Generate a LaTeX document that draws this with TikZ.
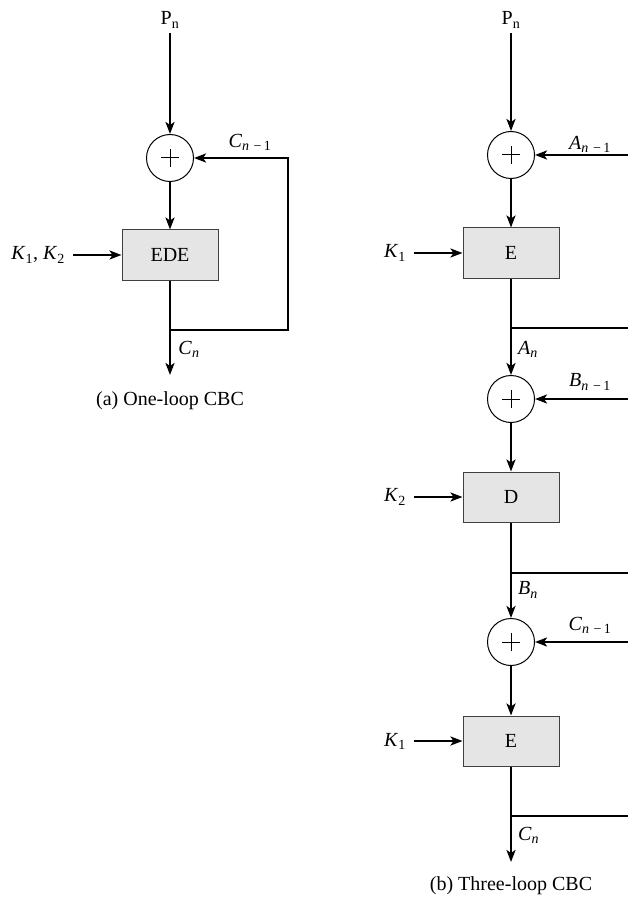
\documentclass[tikz,border=0pt]{standalone}
\usepackage{fontspec}
\setmainfont{Liberation Serif}
\usetikzlibrary{arrows.meta,calc}
\newcommand{\ilab}[2]{\textit{#1}\textsubscript{#2}}
\newcommand{\nmo}{\textit{n}\,\,−\,1}
\begin{document}
\begin{tikzpicture}[x=1pt,y=-1pt,
  font=\fontsize{20}{24}\selectfont,
  arr/.style={line width=2.2pt,-{Stealth[length=12pt,width=9pt,inset=3pt]}},
  wire/.style={line width=2.2pt},
  xorc/.style={circle,draw,line width=1pt,minimum size=47pt,inner sep=0pt,
    path picture={\draw[line width=1pt]
      ([xshift=-9pt]path picture bounding box.center) -- ([xshift=9pt]path picture bounding box.center)
      ([yshift=-9pt]path picture bounding box.center) -- ([yshift=9pt]path picture bounding box.center);}},
  blk/.style={draw=black!75,fill=black!10,line width=1pt,minimum width=96pt,minimum height=50pt,inner sep=0pt},
  lab/.style={inner sep=0pt},
  keylab/.style={inner sep=0pt,inner xsep=8pt,anchor=east},
  top/.style={anchor=base,inner sep=0pt,inner ysep=5pt}
]
\useasboundingbox (0,0) rectangle (628,901);

% ---------- (a) One-loop CBC ----------
\node[top] (pnA) at (170,25) {P\textsubscript{n}};
\node[xorc] (cA) at (170,158) {};
\node[blk] (bA) at (170,255) {EDE};
\node[keylab] (kA) at (73,255) {\ilab{K}{1}, \ilab{K}{2}};
\coordinate (jA) at (170,330);
\coordinate (oA) at (170,375);
\coordinate (rA) at (288,330);

\draw[arr] (pnA) -- (cA);
\draw[arr] (cA) -- (bA);
\draw[arr] (kA.east) -- (kA.east -| bA.west);
\draw[arr] (bA) -- (oA);
\draw[arr] (jA) -- (rA) |- (cA);

\node[lab] (cnm1A) at (250,142) {\ilab{C}{\nmo}};
\node[lab] (cnA) at (189,349) {\ilab{C}{\textit{n}}};
\node[lab] (capA) at (170,401) {(a) One-loop CBC};

% ---------- (b) Three-loop CBC ----------
\node[top] (pnB) at (511,25) {P\textsubscript{n}};
\node[xorc] (c1) at (511,155) {};
\node[blk] (b1) at (511,253) {E};
\node[keylab] (k1) at (414,253) {\ilab{K}{1}};
\node[xorc] (c2) at (511,399) {};
\node[blk] (b2) at (511,497) {D};
\node[keylab] (k2) at (414,497) {\ilab{K}{2}};
\node[xorc] (c3) at (511,642) {};
\node[blk] (b3) at (511,741) {E};
\node[keylab] (k3) at (414,741) {\ilab{K}{1}};

\coordinate (j1) at (511,328);
\coordinate (j2) at (511,573);
\coordinate (j3) at (511,816);
\coordinate (e1) at (628,328);
\coordinate (e2) at (628,573);
\coordinate (e3) at (628,816);
\coordinate (f1) at (628,155);
\coordinate (f2) at (628,399);
\coordinate (f3) at (628,642);
\coordinate (oB) at (511,862);

\draw[arr] (pnB) -- (c1);
\draw[arr] (c1) -- (b1);
\draw[arr] (b1) -- (c2);
\draw[arr] (c2) -- (b2);
\draw[arr] (b2) -- (c3);
\draw[arr] (c3) -- (b3);
\draw[arr] (b3) -- (oB);
\draw[arr] (k1.east) -- (k1.east -| b1.west);
\draw[arr] (k2.east) -- (k2.east -| b2.west);
\draw[arr] (k3.east) -- (k3.east -| b3.west);
\draw[arr] (f1) -- (c1);
\draw[arr] (f2) -- (c2);
\draw[arr] (f3) -- (c3);
\draw[wire] (j1) -- (e1);
\draw[wire] (j2) -- (e2);
\draw[wire] (j3) -- (e3);

\node[lab] (an1) at (590,144) {\ilab{A}{\nmo}};
\node[lab] (bn1) at (590,382) {\ilab{B}{\nmo}};
\node[lab] (cn1) at (590,625) {\ilab{C}{\nmo}};
\node[lab,anchor=west] (an) at (518,349) {\ilab{A}{\textit{n}}};
\node[lab,anchor=west] (bn) at (518,590) {\ilab{B}{\textit{n}}};
\node[lab,anchor=west] (cn) at (518,835) {\ilab{C}{\textit{n}}};
\node[lab] (capB) at (511,886) {(b) Three-loop CBC};
\end{tikzpicture}
\end{document}
